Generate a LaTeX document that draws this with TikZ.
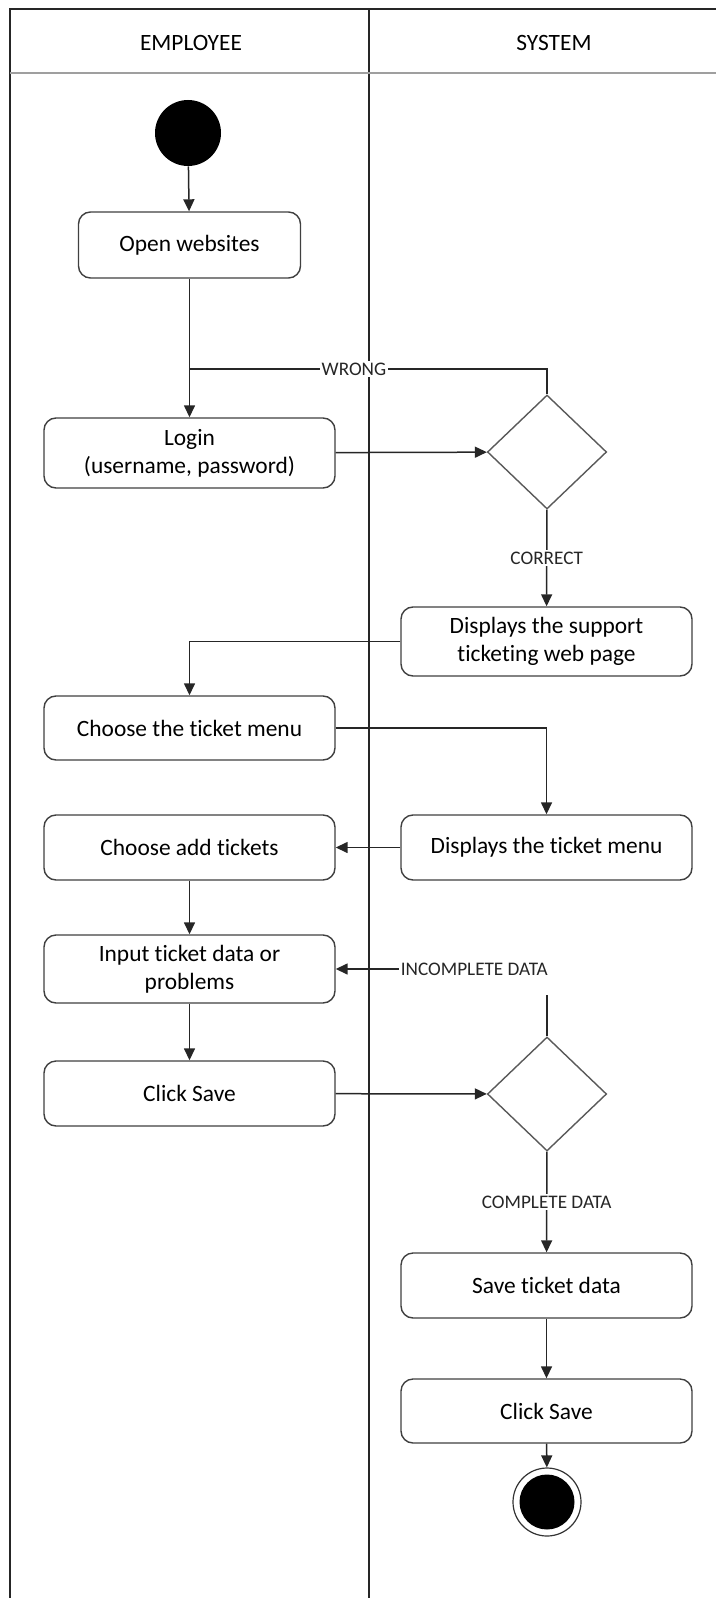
\documentclass[tikz,border=0pt]{standalone}
\usepackage{fontspec}
\setmainfont{Carlito}[Ligatures=NoCommon]
\usetikzlibrary{arrows.meta,shapes.geometric}

\tikzset{
  action/.style={draw=black!75, line width=0.7pt, rounded corners=6pt, fill=white,
    minimum width=145.5pt, minimum height=33pt, align=center, inner sep=2pt,
    font=\fontsize{11.7}{14}\selectfont},
  decision/.style={diamond, draw=black!65, line width=0.7pt, inner sep=0pt,
    minimum width=59.6pt, minimum height=57pt},
  startnode/.style={circle, fill=black, minimum size=33pt, inner sep=0pt},
  endnode/.style={circle, draw=black!80, line width=0.6pt, minimum size=34pt, inner sep=0pt},
  flow/.style={-{Triangle[length=6pt,width=5.5pt]}, line width=0.75pt, black!85},
  lbl/.style={fill=white, inner sep=1pt, font=\fontsize{9.6}{11}\selectfont},
  lane/.style={line width=0.8pt, black!85},
}

\begin{document}
\begin{tikzpicture}[x=0.5pt, y=-0.5pt]
    \useasboundingbox (0,0) rectangle (716,1598);

    % swimlanes
    \draw[lane] (10,1598) -- (10,9) -- (716,9);
    \draw[lane] (369,9) -- (369,1598);
    \draw[line width=1.3pt, gray!75] (10,73) -- (716,73);
    \node[font=\fontsize{11.7}{14}\selectfont] (empl) at (191,43) {EMPLOYEE};
    \node[font=\fontsize{11.7}{14}\selectfont] (sys) at (554,43) {SYSTEM};

    % employee side
    \node[startnode] (start) at (188,133) {};
    \node[action, minimum width=111pt, minimum height=33pt] (open) at (189.5,245) {Open websites};
    \node[action, minimum height=35pt] (login) at (189.5,453) {Login\\(username, password)};
    \node[action, minimum height=32pt] (menu) at (189.5,728) {Choose the ticket menu};
    \node[action, minimum height=32.5pt] (add) at (189.5,847.5) {Choose add tickets};
    \node[action, minimum height=34pt] (input) at (189.5,969) {Input ticket data or\\problems};
    \node[action, minimum height=32.5pt] (save) at (189.5,1093.5) {Click Save};
    \coordinate (wrong) at (189.5,369);

    % system side
    \node[decision] (check) at (547,452) {};
    \node[action, minimum height=34.5pt] (support) at (546.5,641.5) {Displays the support\\ticketing web page};
    \node[action, minimum height=32.5pt] (showmenu) at (546.5,847.5) {Displays the ticket menu};
    \node[decision] (valid) at (547,1094) {};
    \node[action, minimum height=32.5pt] (savedata) at (546.5,1285.5) {Save ticket data};
    \node[action, minimum height=32pt] (clicksave) at (546.5,1411) {Click Save};
    \node[endnode] (stop) at (547,1502) {};
    \fill (stop.center) circle (13.75pt);

    % flows
    \draw[flow] (start) -- (open);
    \draw[flow] (open) -- (login);
    \draw[line width=0.75pt, black!85] (check.north) |- node[lbl, pos=0.77] {WRONG} (wrong);
    \draw[flow] (login) -- (check);
    \draw[flow] (check) -- node[lbl] {CORRECT} (support);
    \draw[flow] (support.west) -| (menu.north);
    \draw[flow] (menu.east) -| (showmenu.north);
    \draw[flow] (showmenu) -- (add);
    \draw[flow] (add) -- (input);
    \draw[flow] (input) -- (save);
    \draw[flow] (save) -- (valid);
    \draw[flow] (valid.north) |- node[lbl, pos=0.672, inner ysep=10pt] {INCOMPLETE DATA} (input.east);
    \draw[flow] (valid) -- node[lbl] {COMPLETE DATA} (savedata);
    \draw[flow] (savedata) -- (clicksave);
    \draw[flow] (clicksave) -- (stop);
\end{tikzpicture}
\end{document}
